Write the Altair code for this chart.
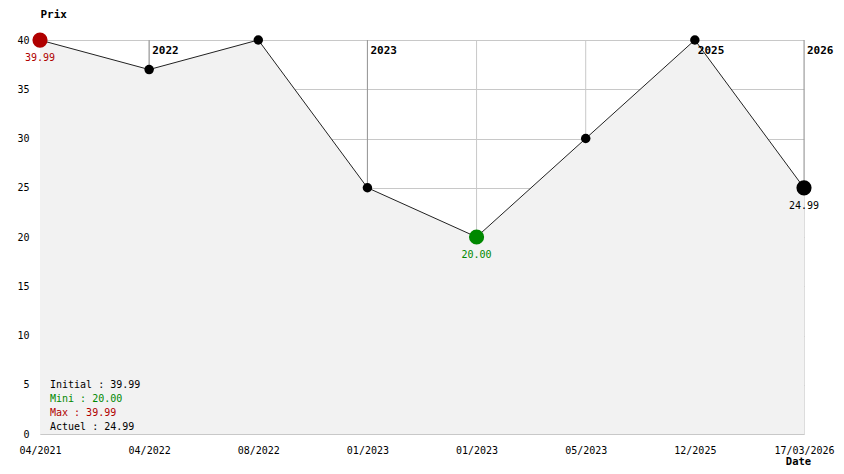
import altair as alt
import pandas as pd

dates = ["04/2021", "04/2022", "08/2022", "01/2023", "01/2023", "05/2023", "12/2025", "17/03/2026"]
prices = [39.99, 37.0, 40.0, 25.0, 20.0, 30.0, 40.0, 24.99]
point_kind = ["max", "normal", "normal", "normal", "min", "normal", "normal", "last"]

year_idx = [1, 3, 6, 7]
year_lbl = ["2022", "2023", "2025", "2026"]

summary_lines = ["Initial : 39.99", "Mini : 20.00", "Max : 39.99", "Actuel : 24.99"]
summary_colors = ["#000000", "#008800", "#b00000", "#000000"]

FONT = "DejaVu Sans Mono"
RED = "#b00000"
GREEN = "#008800"

df = pd.DataFrame({"i": list(range(len(dates))), "date": dates, "price": prices, "kind": point_kind})
years = pd.DataFrame({
    "i": year_idx,
    "year": year_lbl,
    "top": [40] * len(year_idx),
    "bottom": [prices[j] for j in year_idx],
})
inner = pd.DataFrame({"i": list(range(1, len(dates) - 1)), "top": [40] * (len(dates) - 2)})

label_expr = "[" + ",".join("'" + d + "'" for d in dates) + "][datum.value]"
last = len(dates) - 1

xscale = alt.Scale(domain=[0, last], nice=False, zero=False)
yscale = alt.Scale(domain=[0, 40], nice=False)

x_enc = alt.X(
    "i:Q",
    scale=xscale,
    axis=alt.Axis(
        values=list(range(len(dates))),
        labelExpr=label_expr,
        domain=False,
        ticks=False,
        grid=False,
        labelPadding=11,
        labelFontSize=10,
        labelFont=FONT,
        labelColor="#000",
        title="Date",
        titleFont=FONT,
        titleFontSize=10.5,
        titleFontWeight="bold",
        titleAlign="center",
        titleBaseline="bottom",
        titleX=758,
        titleY=32,
        titleColor="#000",
        labelFlush=False,
        labelOverlap=False,
    ),
)
y_enc = alt.Y(
    "price:Q",
    scale=yscale,
    axis=alt.Axis(
        values=list(range(0, 41, 5)),
        domain=False,
        ticks=False,
        grid=True,
        gridColor="#c8c8c8",
        gridOpacity=1,
        labelPadding=11,
        labelFontSize=10,
        labelFont=FONT,
        labelColor="#000",
        title="Prix",
        titleFont=FONT,
        titleFontSize=11,
        titleFontWeight="bold",
        titleAngle=0,
        titleAlign="left",
        titleBaseline="top",
        titleX=0,
        titleY=-32,
        titleColor="#000",
    ),
)

base = alt.Chart(df)

vgrid = alt.Chart(inner).mark_rule(color="#c8c8c8", strokeWidth=1).encode(
    x=alt.X("i:Q", scale=xscale),
    y=alt.Y("top:Q", scale=yscale),
    y2=alt.datum(0),
)

year_rules = alt.Chart(years).mark_rule(color="#999999", strokeWidth=1).encode(
    x=alt.X("i:Q", scale=xscale),
    y=alt.Y("top:Q", scale=yscale),
    y2="bottom:Q",
)

area = base.mark_area(color="#f2f2f2", opacity=1).encode(x=x_enc, y=y_enc, y2=alt.datum(0))
line = base.mark_line(color="#222222", strokeWidth=1).encode(x="i:Q", y="price:Q")

small_pts = base.transform_filter("datum.kind == 'normal'").mark_circle(
    size=90, color="#000", opacity=1
).encode(x="i:Q", y="price:Q")

big_pts = base.transform_filter("datum.kind != 'normal'").mark_circle(size=230, opacity=1).encode(
    x="i:Q",
    y="price:Q",
    color=alt.Color(
        "kind:N",
        scale=alt.Scale(domain=["max", "min", "last"], range=[RED, GREEN, "#000000"]),
        legend=None,
    ),
)

val_labels = base.transform_filter("datum.kind != 'normal'").transform_calculate(
    lbl="format(datum.price, '.2f')"
).mark_text(font=FONT, fontSize=10, dy=18, baseline="middle", align="center").encode(
    x="i:Q",
    y="price:Q",
    text="lbl:N",
    color=alt.Color(
        "kind:N",
        scale=alt.Scale(domain=["max", "min", "last"], range=[RED, GREEN, "#000000"]),
        legend=None,
    ),
)

year_text = alt.Chart(years).mark_text(
    font=FONT, fontSize=11, fontWeight="bold", align="left", baseline="middle", dx=3, dy=11, color="#000"
).encode(x=alt.X("i:Q", scale=xscale), y=alt.Y("top:Q", scale=yscale), text="year:N")

summary_layers = []
for k, (txt, col) in enumerate(zip(summary_lines, summary_colors)):
    summary_layers.append(
        alt.Chart(pd.DataFrame({"t": [txt]})).mark_text(
            font=FONT, fontSize=10, align="left", baseline="middle", color=col
        ).encode(x=alt.value(10), y=alt.value(345 + 14 * k), text="t:N")
    )

chart = alt.layer(
    vgrid, area, year_rules, line, small_pts, big_pts, val_labels, year_text, *summary_layers
).properties(
    width=764,
    height=394,
    padding={"left": 32, "top": 32, "right": 32, "bottom": 32},
    autosize=alt.AutoSizeParams(type="none"),
    background="#ffffff",
).configure_view(stroke=None).configure(font=FONT)

chart.save("out.html", embed_options={"renderer": "svg", "actions": False})
